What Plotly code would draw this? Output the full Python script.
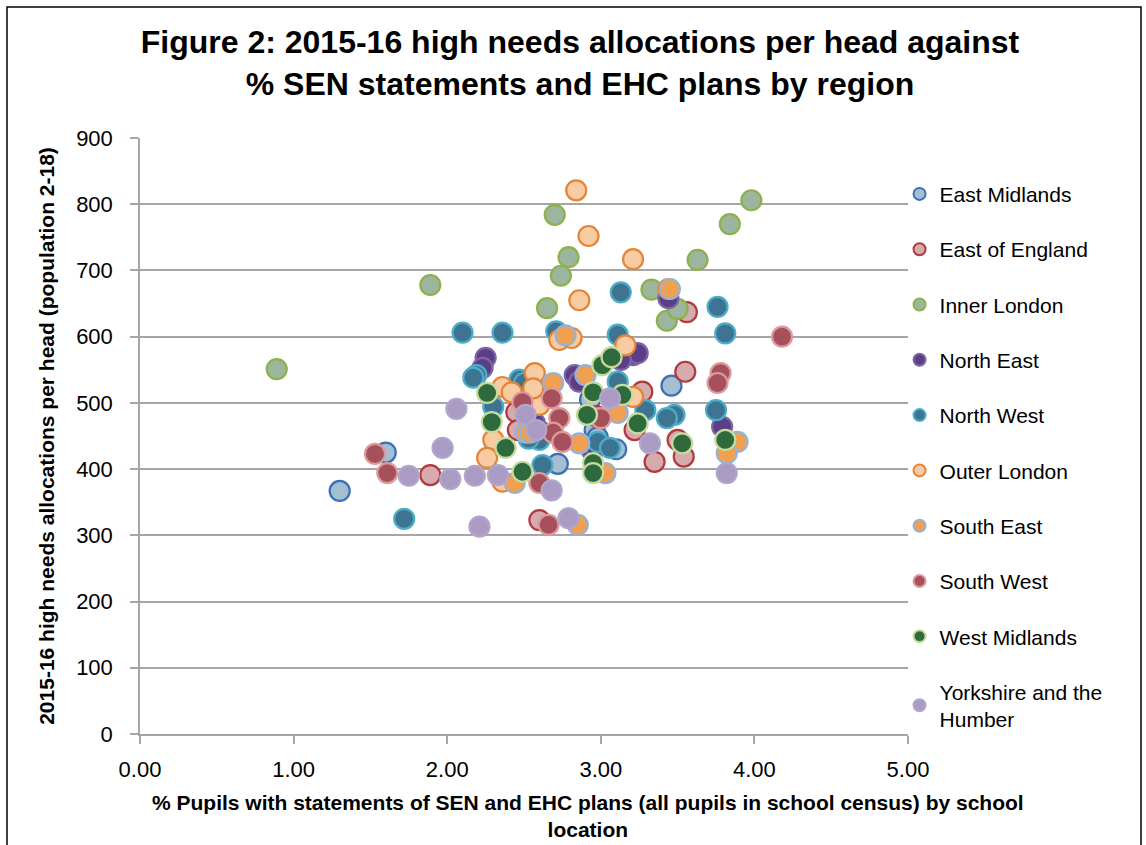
import plotly.graph_objects as go

regions = ["East Midlands", "East of England", "Inner London", "North East", "North West",
           "Outer London", "South East", "South West", "West Midlands", "Yorkshire and the<br>Humber"]

em_x = [1.30, 1.60, 2.72, 2.96, 2.93, 3.46, 2.62, 2.98, 3.10]
em_y = [367, 425, 408, 459, 505, 526, 455, 448, 430]

eoe_x = [1.89, 2.45, 2.46, 2.60, 3.55, 3.56, 3.27, 3.22, 3.35, 3.54, 3.50, 2.97]
eoe_y = [391, 486, 459, 323, 547, 637, 517, 459, 411, 419, 444, 480]

il_x = [0.89, 1.89, 2.70, 2.79, 2.74, 2.65, 3.63, 3.98, 3.84, 3.33, 3.43, 3.50]
il_y = [551, 678, 784, 720, 692, 643, 716, 806, 770, 671, 624, 642]

ne_x = [2.25, 2.23, 2.83, 2.86, 3.21, 3.24, 3.44, 3.79, 2.94, 3.13, 2.97, 2.57]
ne_y = [568, 553, 542, 532, 572, 575, 658, 464, 429, 565, 433, 470]

nw_x = [2.10, 2.36, 2.71, 3.11, 3.13, 3.76, 3.81, 2.19, 2.17, 2.47, 2.30, 3.11,
        2.98, 3.06, 2.62, 1.72, 3.29, 3.48, 3.43, 3.75, 2.60, 2.53, 2.50]
nw_y = [606, 606, 608, 603, 667, 645, 605, 542, 538, 535, 494, 532,
        441, 432, 406, 325, 489, 482, 477, 489, 444, 446, 530]

ol_x = [2.84, 2.92, 3.21, 3.44, 2.86, 2.73, 2.81, 3.16, 2.57, 2.36, 2.42, 2.58,
        2.60, 2.30, 2.26, 2.36, 3.21, 2.56]
ol_y = [821, 752, 717, 672, 655, 595, 598, 587, 545, 524, 516, 519,
        497, 444, 417, 381, 509, 522]

se_x = [2.77, 2.69, 2.90, 3.11, 2.51, 2.86, 3.03, 2.44, 2.85, 3.89, 3.82, 2.54, 3.45]
se_y = [602, 530, 542, 485, 455, 439, 394, 379, 316, 441, 424, 455, 672]

sw_x = [1.53, 1.61, 2.49, 2.68, 2.73, 2.69, 3.00, 2.75, 2.60, 2.66, 4.18, 3.78, 3.76]
sw_y = [423, 394, 501, 507, 477, 455, 477, 441, 379, 316, 600, 545, 530]

wm_x = [2.26, 2.29, 2.38, 2.49, 2.95, 2.95, 3.01, 3.07, 2.95, 3.14, 2.91, 3.24, 3.53, 3.81]
wm_y = [515, 471, 432, 396, 409, 394, 557, 569, 516, 512, 482, 469, 439, 444]

yh_x = [1.75, 1.97, 2.02, 2.18, 2.33, 2.06, 2.21, 2.51, 2.58, 2.68, 2.79, 3.06, 3.32, 3.82]
yh_y = [390, 432, 385, 390, 391, 491, 313, 482, 459, 368, 326, 507, 439, 394]

xs = [em_x, eoe_x, il_x, ne_x, nw_x, ol_x, se_x, sw_x, wm_x, yh_x]
ys = [em_y, eoe_y, il_y, ne_y, nw_y, ol_y, se_y, sw_y, wm_y, yh_y]

fills = ["#A5BFD2", "#D6ABAD", "#9CB59E", "#5B3F86", "#3F7392",
         "#F9CBA3", "#F0A04E", "#A5505A", "#2F6A3C", "#A99BC4"]
borders = ["#3B6FB6", "#B23A3E", "#8DB14B", "#7E63A6", "#4BAEC8",
           "#E38436", "#93B3DB", "#DC9A9C", "#C5DB9F", "#B2A5CC"]

fig = go.Figure()
for i, name in enumerate(regions):
    fig.add_trace(go.Scatter(
        x=xs[i], y=ys[i], mode="markers", name=name, legendgroup=f"g{i}",
        marker=dict(size=20, color=fills[i], line=dict(color=borders[i], width=2.2)),
    ))

font = "Liberation Sans, Arial, sans-serif"
fig.update_layout(
    width=1146, height=845,
    margin=dict(l=140, r=238, t=138, b=111),
    paper_bgcolor="white", plot_bgcolor="white",
    font=dict(family=font, color="black"),
    title=dict(
        text="<b>Figure 2: 2015-16 high needs allocations per head against<br>% SEN statements and EHC plans by region</b>",
        x=580/1146, xanchor="center", xref="container",
        y=1-53/845, yanchor="middle", yref="container",
        font=dict(size=32, family=font, color="black"),
    ),
    showlegend=True,
    legend=dict(
        x=0.989, xanchor="left", y=0.94, yanchor="top",
        font=dict(size=21, family=font, color="black"),
        itemsizing="constant", tracegroupgap=25, itemwidth=30,
        bgcolor="rgba(0,0,0,0)",
    ),
    xaxis=dict(
        range=[0, 5], dtick=1, tick0=0, tickformat=".2f",
        showgrid=False, zeroline=False,
        showline=True, linecolor="#A6A6A6", linewidth=1.5,
        ticks="outside", ticklen=8, tickcolor="#A6A6A6", tickwidth=1.5,
        ticklabelstandoff=7,
        tickfont=dict(size=22, family=font, color="black"),
    ),
    yaxis=dict(
        range=[0, 900], dtick=100, tick0=0,
        showgrid=True, gridcolor="#A6A6A6", gridwidth=1.5, zeroline=False,
        showline=True, linecolor="#A6A6A6", linewidth=1.5,
        ticks="outside", ticklen=8, tickcolor="#A6A6A6", tickwidth=1.5,
        ticklabelstandoff=13,
        tickfont=dict(size=22, family=font, color="black"),
        title=dict(text="<b>2015-16 high needs allocations per head (population 2-18)</b>",
                   font=dict(size=21, family=font, color="black"), standoff=16),
    ),
    annotations=[dict(
        text="<b>% Pupils with statements of SEN and EHC plans (all pupils in school census) by school<br>location</b>",
        xref="paper", yref="paper", x=(588-140)/768, y=(734-789)/596,
        xanchor="center", yanchor="top", showarrow=False, align="center",
        font=dict(size=21, family=font, color="black"),
    )],
    shapes=[dict(
        type="rect", xref="paper", yref="paper",
        x0=(7-140)/768, x1=(1141-140)/768, y0=(734-870)/596, y1=(734-7)/596,
        line=dict(color="black", width=1.5), fillcolor="rgba(0,0,0,0)", layer="below",
    )],
)

fig.write_html("out.html")
